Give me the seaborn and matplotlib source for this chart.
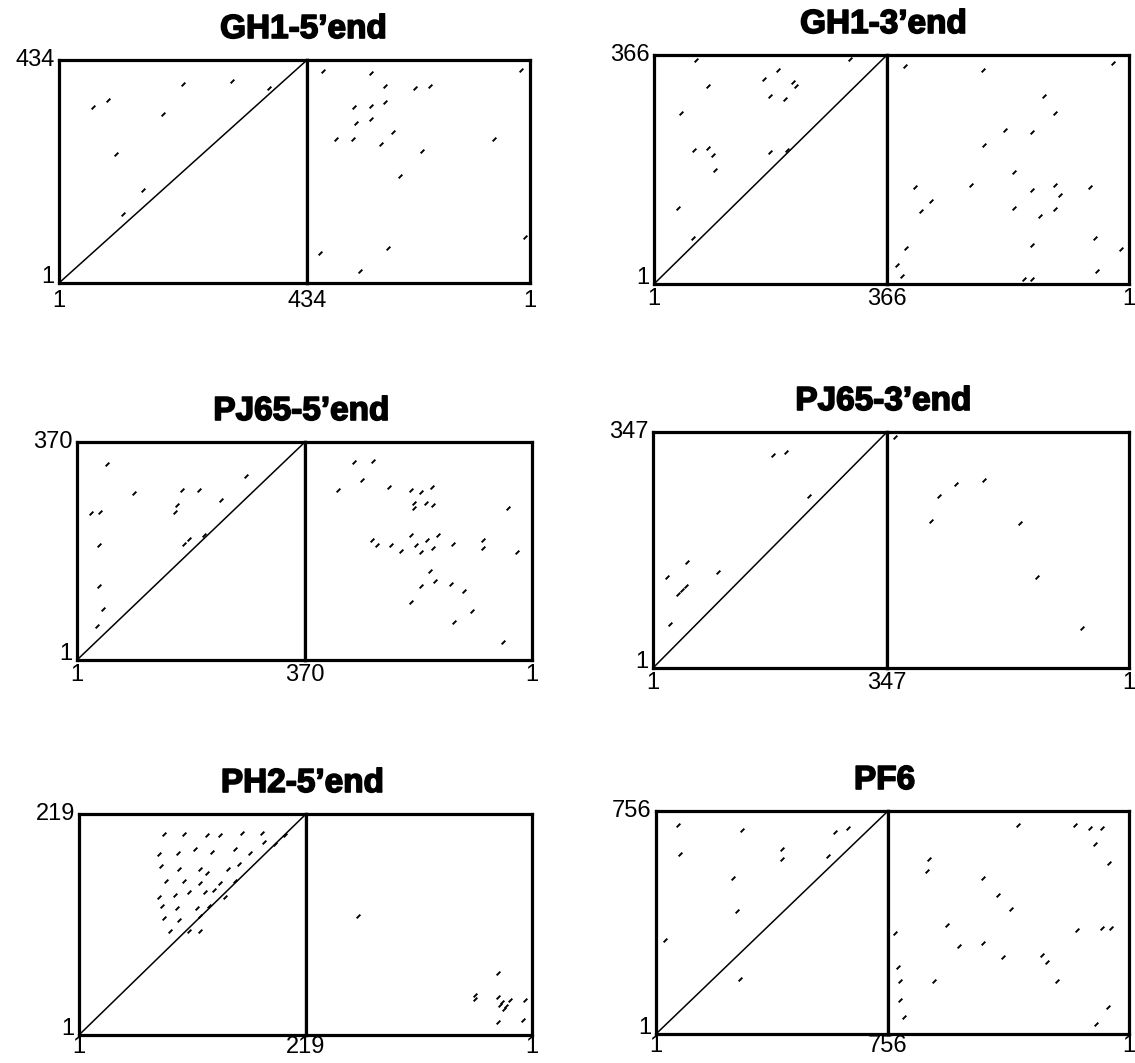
import numpy as np
import matplotlib.pyplot as plt
import matplotlib.patheffects as pe
from matplotlib.path import Path
import seaborn as sns

sns.set_theme(style="white")
plt.rcParams['font.family'] = ['Liberation Sans', 'DejaVu Sans']

W, H = 1135, 1063

titles = ["GH1-5\u2019end", "GH1-3\u2019end", "PJ65-5\u2019end", "PJ65-3\u2019end", "PH2-5\u2019end", "PF6"]
lengths = [434, 366, 370, 347, 219, 756]

# left half: direct comparison (x = position, y = position)
gh5_fwd_x = [61, 86, 218, 303, 368, 182, 101, 147, 113]
gh5_fwd_y = [343, 356, 387, 394, 379, 330, 252, 181, 135]
# right half: reverse comparison (x read on the reversed axis L..1)
gh5_rev_x = [402, 310, 283, 225, 196, 19, 342, 310, 283, 339, 310, 267, 378, 345, 290, 70, 210, 253, 10, 408, 277, 331]
gh5_rev_y = [412, 408, 383, 379, 384, 415, 342, 344, 353, 312, 319, 295, 280, 280, 271, 280, 257, 209, 90, 59, 68, 25]

gh3_fwd_x = [67, 308, 86, 196, 173, 218, 223, 183, 206, 43, 64, 86, 93, 96, 183, 209, 39, 62]
gh3_fwd_y = [358, 360, 316, 342, 327, 323, 316, 300, 296, 274, 215, 217, 207, 182, 211, 215, 122, 74]
gh3_rev_x = [339, 25, 221, 129, 113, 188, 148, 219, 175, 324, 240, 147, 113, 105, 60, 300, 315, 174, 113, 135,
             53, 147, 13, 337, 351, 343, 159, 148, 49]
gh3_rev_y = [348, 353, 342, 301, 274, 247, 243, 223, 179, 156, 158, 151, 158, 143, 156, 133, 117, 122, 120, 110,
             74, 63, 56, 58, 31, 14, 9, 9, 22]

pj5_fwd_x = [50, 23, 38, 93, 171, 198, 163, 160, 234, 275, 37, 37, 43, 33, 174, 182, 206]
pj5_fwd_y = [332, 250, 252, 284, 289, 289, 264, 252, 272, 312, 195, 126, 87, 58, 198, 206, 212]
pj5_rev_x = [316, 290, 260, 234, 198, 193, 182, 163, 193, 174, 162, 261, 253, 230, 214, 198, 190, 182, 171, 162,
             154, 130, 80, 80, 167, 159, 182, 198, 133, 111, 98, 127, 48, 40, 26, 277]
pj5_rev_y = [289, 336, 337, 293, 289, 267, 286, 293, 258, 267, 263, 204, 195, 195, 186, 212, 195, 183, 204, 190,
             212, 198, 204, 190, 152, 135, 126, 100, 130, 118, 84, 66, 32, 258, 183, 306]

pj3_fwd_x = [179, 197, 232, 22, 38, 44, 50, 52, 97, 26]
pj3_fwd_y = [313, 317, 253, 135, 109, 115, 121, 157, 142, 65]
pj3_rev_x = [336, 272, 249, 209, 284, 157, 132, 68]
pj3_rev_y = [340, 253, 271, 276, 216, 213, 135, 60]

ph2_fwd_x = [83, 102, 124, 136, 158, 177, 199, 179, 189, 78, 96, 112, 129, 151, 165,
             80, 97, 117, 124, 144, 155, 85, 102, 117, 136, 151,
             78, 93, 107, 122, 131, 141, 81, 95, 114, 126, 83, 97, 117, 88, 107, 117]
ph2_fwd_y = [199, 199, 198, 198, 200, 200, 198, 191, 189, 180, 181, 184, 182, 184, 181,
             168, 165, 165, 161, 165, 170, 153, 153, 151, 151, 153,
             137, 139, 142, 142, 144, 137, 128, 126, 126, 128, 116, 114, 118, 104, 104, 104]
ph2_rev_x = [169, 34, 56, 56, 34, 30, 26, 22, 28, 32, 8, 10, 34]
ph2_rev_y = [118, 62, 40, 37, 38, 34, 30, 36, 27, 31, 36, 16, 14]

pf6_fwd_x = [73, 281, 79, 411, 411, 583, 626, 252, 265, 30, 274, 561]
pf6_fwd_y = [710, 691, 610, 626, 593, 684, 697, 528, 418, 320, 187, 603]
pf6_rev_x = [170, 124, 87, 349, 109, 63, 627, 633, 457, 411, 371, 571, 534, 457, 395, 272, 257, 164, 87, 56,
             226, 734, 725, 719, 719, 707, 611, 103, 66]
pf6_rev_y = [707, 697, 700, 710, 645, 580, 593, 554, 528, 473, 424, 369, 300, 310, 261, 268, 245, 353, 359, 359,
             180, 343, 229, 180, 115, 60, 180, 34, 92]

hits = [
    (gh5_fwd_x, gh5_fwd_y, gh5_rev_x, gh5_rev_y),
    (gh3_fwd_x, gh3_fwd_y, gh3_rev_x, gh3_rev_y),
    (pj5_fwd_x, pj5_fwd_y, pj5_rev_x, pj5_rev_y),
    (pj3_fwd_x, pj3_fwd_y, pj3_rev_x, pj3_rev_y),
    (ph2_fwd_x, ph2_fwd_y, ph2_rev_x, ph2_rev_y),
    (pf6_fwd_x, pf6_fwd_y, pf6_rev_x, pf6_rev_y),
]

# panel boxes in pixels: left, divider, right, top, bottom
boxes = [(59, 307, 530, 60, 283), (654, 887, 1129, 55, 284),
         (77, 305, 532, 442, 660), (653, 887, 1129, 432, 668),
         (79, 306, 532, 814, 1035), (656, 888, 1129, 811, 1034)]
xpads = [5, 3, 3, 3, 0.5, 0.5]

dash = Path([(-1, -1), (1, 1)], [Path.MOVETO, Path.LINETO])
tick_font = 17
lw_box = 2.3


def style_axes(ax, xpad):
    for sp in ax.spines.values():
        sp.set_color('black')
        sp.set_linewidth(lw_box)
    ax.tick_params(length=0, labelsize=tick_font, colors='black')
    ax.tick_params(axis='x', pad=xpad)
    ax.grid(False)


fig = plt.figure(figsize=(W / 100, H / 100), dpi=100)

for title, L, (fx, fy, rx, ry), (l, m, r, t, b), xpad in zip(titles, lengths, hits, boxes, xpads):
    ax_l = fig.add_axes([l / W, 1 - b / H, (m - l) / W, (b - t) / H])
    ax_r = fig.add_axes([m / W, 1 - b / H, (r - m) / W, (b - t) / H])

    sns.lineplot(x=[1, L], y=[1, L], color='black', linewidth=1.1, ax=ax_l)
    sns.scatterplot(x=fx, y=fy, marker=dash, s=7, color='black', edgecolor='black', linewidth=1.4, ax=ax_l)
    sns.scatterplot(x=rx, y=ry, marker=dash, s=7, color='black', edgecolor='black', linewidth=1.4, ax=ax_r)

    ax_l.set_xlim(1, L)
    ax_l.set_ylim(1, L)
    ax_r.set_xlim(L, 1)
    ax_r.set_ylim(1, L)

    ax_l.set_xticks([1, L], ['1', str(L)])
    ax_l.set_yticks([1, L], ['1', str(L)])
    ax_r.set_xticks([1], ['1'])
    ax_r.set_yticks([])
    for ax in (ax_l, ax_r):
        style_axes(ax, xpad)
    ax_l.tick_params(axis='y', pad=3)
    ylabels = ax_l.get_yticklabels()
    ylabels[0].set_va('baseline')
    ylabels[1].set_va('center')

    fig.text(m / W - 0.003, 1 - (t - 22) / H, title, ha='center', va='baseline',
             fontsize=24, fontweight='bold', color='black',
             path_effects=[pe.withStroke(linewidth=1.2, foreground='black')])

fig.savefig('out.png', dpi=100, facecolor='white')
